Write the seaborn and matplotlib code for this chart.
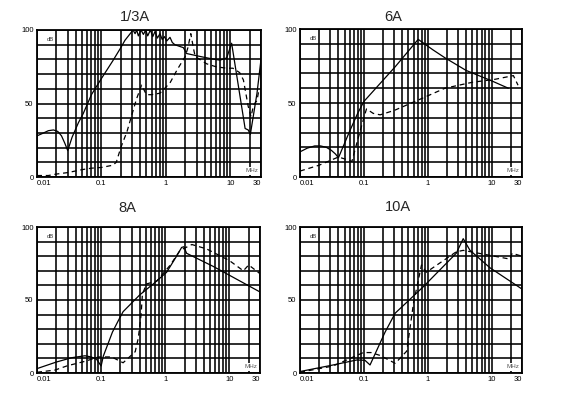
import numpy as np
import pandas as pd
import matplotlib
matplotlib.use("Agg")
import matplotlib.pyplot as plt
import seaborn as sns

# ---------------- data ----------------
titles = ["1/3A", "6A", "8A", "10A"]

# 1/3A
a1_solid_f = [0.01, 0.012, 0.015, 0.018, 0.021, 0.024, 0.027, 0.03, 0.035, 0.044, 0.052, 0.07, 0.1,
              0.15, 0.2, 0.232, 0.31, 0.333, 0.353, 0.374, 0.412, 0.448, 0.487, 0.523, 0.576, 0.626,
              0.68, 0.74, 0.81, 0.88, 0.95, 1.03, 1.16, 1.26, 1.38, 1.6, 1.87, 2.1, 3.4, 5.0, 6.9,
              8.8, 10.5, 17.0, 19.0, 20.5, 26.0, 30.0]
a1_solid_v = [28, 29.5, 31.5, 32, 31, 28, 23, 18, 27, 37, 43, 56, 67,
              79, 88, 93, 100, 97.5, 100, 96, 100, 97, 100, 96, 100, 95.5,
              99, 94.5, 97.5, 93.5, 95.5, 92.5, 95, 91.5, 90, 89, 88, 84, 82, 80.5, 79.5,
              81, 91, 33, 32, 29, 57, 80]
a1_dash_f = [0.01, 0.015, 0.02, 0.03, 0.05, 0.07, 0.1, 0.15, 0.17, 0.2, 0.25, 0.3, 0.35, 0.42,
             0.5, 0.6, 0.81, 1.16, 1.5, 2.0, 2.2, 2.44, 2.7, 2.85, 4.3, 6.0, 8.8, 11.0, 14.0,
             16.0, 19.0, 21.0, 23.0, 26.0, 28.0]
a1_dash_v = [1, 1, 2, 3, 5, 6, 6.5, 8, 10, 20, 31, 43, 53, 62.5,
             56, 56, 57, 64, 73, 82, 88, 97.5, 87, 82, 77, 75, 74, 74, 71,
             66, 48, 41, 49, 52, 60]

# 6A
a2_solid_f = [0.01, 0.013, 0.017, 0.021, 0.026, 0.031, 0.036, 0.04, 0.06, 0.08, 0.1, 0.31,
              0.71, 1.2, 1.87, 4.0, 10.0, 18.3]
a2_solid_v = [17, 19.5, 21, 21, 20, 18, 15.5, 13, 31, 43, 51, 74.5,
              93, 86, 80.5, 72, 65, 60]
a2_dash_f = [0.01, 0.02, 0.04, 0.052, 0.065, 0.08, 0.1, 0.11, 0.14, 0.18, 0.3, 0.71, 1.87,
             5.0, 11.3, 22.0, 26.0]
a2_dash_v = [4, 8, 13.5, 12, 10.5, 25, 40, 46, 43, 42, 45, 52, 60,
             64, 66, 68.5, 62]

# 8A
a3_solid_f = [0.01, 0.02, 0.035, 0.056, 0.07, 0.085, 0.1, 0.108, 0.15, 0.186, 0.22, 0.4, 0.65,
              1.05, 1.5, 1.8, 1.95, 2.15, 5.6, 30.0]
a3_solid_v = [3, 7.5, 10.5, 11.8, 11, 9.4, 4.8, 11.5, 28, 36, 42, 53.5, 61,
              69, 80, 86, 86.5, 82, 73, 55.5]
a3_dash_f = [0.01, 0.019, 0.03, 0.056, 0.091, 0.146, 0.22, 0.34, 0.38, 0.42, 0.44, 0.51, 0.74,
             1.2, 1.7, 2.6, 4.4, 10.0, 16.5, 20.0, 30.0]
a3_dash_v = [0.5, 2, 5, 8, 11, 11, 7, 14.6, 24, 40, 54, 61, 63,
             74, 84, 88, 85, 77, 70, 74, 68]

# 10A
a4_solid_f = [0.01, 0.033, 0.077, 0.104, 0.125, 0.215, 0.31, 0.85, 2.8, 3.6, 4.6, 9.5, 30.0]
a4_solid_v = [1, 5.5, 8.9, 8.7, 5.5, 28, 41, 59, 82, 92, 84, 72, 57.5]
a4_dash_f = [0.01, 0.033, 0.098, 0.13, 0.18, 0.31, 0.47, 0.6, 0.8, 0.95, 2.8, 3.6, 19.5, 21.0, 30.0]
a4_dash_v = [0.5, 4.8, 14, 14, 12, 6.6, 15, 48, 74, 69, 83, 84, 78, 82, 80]

solid_f = [a1_solid_f, a2_solid_f, a3_solid_f, a4_solid_f]
solid_v = [a1_solid_v, a2_solid_v, a3_solid_v, a4_solid_v]
dash_f = [a1_dash_f, a2_dash_f, a3_dash_f, a4_dash_f]
dash_v = [a1_dash_v, a2_dash_v, a3_dash_v, a4_dash_v]

x_ticks = [0.01, 0.1, 1, 10, 30]
x_tick_labels = ["0.01", "0.1", "1", "10", "30"]
y_ticks = [0, 50, 100]
y_tick_labels = ["0", "50", "100"]

# ---------------- figure ----------------
sns.set_style("white")
plt.rcParams["font.family"] = ["Liberation Sans", "DejaVu Sans"]

W, H = 585, 398
fig = plt.figure(figsize=(W / 100, H / 100), dpi=100)
boxes = [(37, 30, 261, 177), (300, 29, 522, 177), (37, 227, 260, 373), (300, 227, 522, 373)]
title_pos = [(135, 17), (393, 17), (127, 208), (398, 207)]

minor_x = []
for dec in [0.01, 0.1, 1, 10]:
    for k in range(1, 10):
        v = dec * k
        if v <= 30:
            minor_x.append(v)
minor_x.append(20)
minor_x.append(30)

for i in range(4):
    l, t, r, b = boxes[i]
    ax = fig.add_axes([l / W, 1 - b / H, (r - l) / W, (b - t) / H])
    ax.set_xscale("log")
    ax.set_xlim(0.01, 30)
    ax.set_ylim(0, 100)

    df_s = pd.DataFrame({"f": solid_f[i], "v": solid_v[i]})
    df_d = pd.DataFrame({"f": dash_f[i], "v": dash_v[i]})
    sns.lineplot(data=df_s, x="f", y="v", ax=ax, color="black", lw=0.9, sort=False,
                 estimator=None, zorder=3)
    sns.lineplot(data=df_d, x="f", y="v", ax=ax, color="black", lw=0.9, sort=False,
                 estimator=None, zorder=3, linestyle=(0, (4, 3)))

    ax.set_xticks(x_ticks)
    ax.set_xticklabels(x_tick_labels)
    ax.set_xticks(sorted(set(minor_x)), minor=True)
    ax.xaxis.set_minor_formatter(matplotlib.ticker.NullFormatter())
    ax.set_yticks(y_ticks)
    ax.set_yticklabels(y_tick_labels)
    ax.set_yticks(np.arange(0, 101, 10), minor=True)
    ax.tick_params(which="both", length=0, labelsize=5.5, pad=2.5, colors="black")
    for lab in ax.get_xticklabels():
        if lab.get_text() == "0.01":
            lab.set_ha("left")
        elif lab.get_text() == "30":
            lab.set_ha("right")
    ax.grid(which="both", color="black", lw=1.15)
    ax.set_axisbelow(True)
    for s in ax.spines.values():
        s.set_color("black")
        s.set_linewidth(1.3)
    ax.set_xlabel("")
    ax.set_ylabel("")

    ax.text(0.045, 0.955, "dB", transform=ax.transAxes, fontsize=4.2, color="#333333",
            ha="left", va="top", zorder=5,
            bbox=dict(facecolor="white", edgecolor="none", pad=0.8))
    ax.text(0.988, 0.025, "MHz", transform=ax.transAxes, fontsize=4.5, color="#555555",
            ha="right", va="bottom", zorder=5,
            bbox=dict(facecolor="white", edgecolor="none", pad=1.0))

    tx, ty = title_pos[i]
    fig.text(tx / W, 1 - ty / H, titles[i], ha="center", va="center", fontsize=10.5)

fig.savefig("out.png", dpi=100, facecolor="white")
